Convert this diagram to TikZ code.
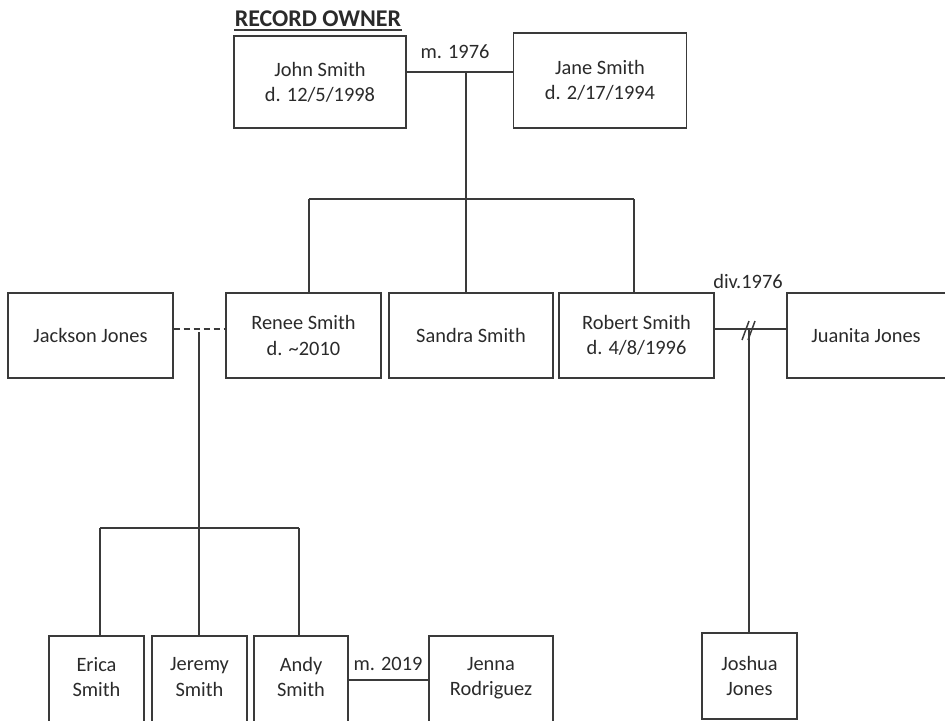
\documentclass[tikz,border=0pt]{standalone}
\usepackage{fontspec}
\setmainfont{Carlito}
\definecolor{ln}{HTML}{3A3A3A}
\definecolor{tx}{HTML}{2A2A2A}
\begin{document}
\begin{tikzpicture}[x=0.5pt,y=-0.5pt,
  every node/.style={text=tx,font=\fontsize{10.2}{12.6}\selectfont},
  person/.style={draw=ln,line width=0.65pt,rectangle,inner sep=0pt,align=center},
  conn/.style={draw=ln,line width=0.65pt},
  lbl/.style={inner sep=0pt}]
\useasboundingbox (0,0) rectangle (945,720);
% generation 1
\node[lbl,font=\fontsize{12}{14}\selectfont\bfseries] (ro) at (318,19) {RECORD OWNER};
\draw[ln,line width=0.9pt] ([yshift=-1.4pt]ro.south west) -- ([yshift=-1.4pt]ro.south east);
\node[person,minimum width=86pt,minimum height=46pt] (john) at (320,82) {John Smith\\d. 12/5/1998};
\node[person,minimum width=86.5pt,minimum height=47.5pt] (jane) at (600,80.5) {Jane Smith\\d. 2/17/1994};
% generation 2
\node[person,minimum width=82.5pt,minimum height=42.5pt] (jackson) at (90.5,335.5) {Jackson Jones};
\node[person,minimum width=77.5pt,minimum height=42.5pt] (renee) at (303.5,335.5) {Renee Smith\\d. \textasciitilde2010};
\node[person,minimum width=82pt,minimum height=42.5pt] (sandra) at (471,335.5) {Sandra Smith};
\node[person,minimum width=77.5pt,minimum height=42.5pt] (robert) at (636.5,335.5) {Robert Smith\\d. 4/8/1996};
\node[person,minimum width=86.5pt,minimum height=42.5pt] (juanita) at (873.5,335.5) {};
\node[lbl] (juanitat) at (866,335.5) {Juanita Jones};
% generation 3
\node[person,minimum width=47.5pt,minimum height=54pt] (erica) at (96.5,690) {};
\node[person,minimum width=47.5pt,minimum height=54pt] (jeremy) at (199.5,690) {};
\node[person,minimum width=47pt,minimum height=54pt] (andy) at (301,690) {};
\node[person,minimum width=62pt,minimum height=54pt] (jenna) at (491,690) {};
\node[lbl,align=center] (ericat) at (96.5,677) {Erica\\Smith};
\node[lbl,align=center] (jeremyt) at (199.5,677) {Jeremy\\Smith};
\node[lbl,align=center] (andyt) at (301,677) {Andy\\Smith};
\node[lbl,align=center] (jennat) at (491,678) {Jenna\\Rodriguez};
\node[person,minimum width=47.5pt,minimum height=43pt] (joshua) at (749.5,676) {Joshua\\Jones};
% labels
\node[lbl] (m1976) at (455,52) {m. 1976};
\node[lbl] (div) at (748,281) {div.1976};
\node[lbl] (m2019) at (388,664) {m. 2019};
% connectors
\coordinate (m1) at (466,72);
\coordinate (b1) at (466,199);
\coordinate (bl) at (309,199);
\coordinate (br) at (634,199);
\draw[conn] (john.east |- m1) -- (jane.west |- m1);
\draw[conn] (m1) -- (b1);
\draw[conn] (bl) -- (br);
\draw[conn] (bl) -- (bl |- renee.north);
\draw[conn] (b1) -- (b1 |- sandra.north);
\draw[conn] (br) -- (br |- robert.north);
% Jackson - Renee
\coordinate (d1) at (199,329);
\coordinate (c1) at (199,528);
\coordinate (cl) at (100,528);
\coordinate (cr) at (299,528);
\draw[conn,dash pattern=on 3pt off 2pt] (jackson.east |- d1) -- (renee.west |- d1);
\draw[conn] (199,332) -- (c1);
\draw[conn] (cl) -- (cr);
\draw[conn] (cl) -- (cl |- erica.north);
\draw[conn] (c1) -- (c1 |- jeremy.north);
\draw[conn] (cr) -- (cr |- andy.north);
% Andy - Jenna
\coordinate (a1) at (348,680);
\draw[conn,line width=0.8pt] (andy.east |- a1) -- (jenna.west |- a1);
% Robert - Juanita
\coordinate (r1) at (749,329);
\draw[conn] (robert.east |- r1) -- (juanita.west |- r1);
\draw[conn,line width=0.75pt] (742,340) -- (749,321);
\draw[conn,line width=0.75pt] (748,340) -- (755,321);
\draw[conn] (r1) -- (r1 |- joshua.north);
\end{tikzpicture}
\end{document}
